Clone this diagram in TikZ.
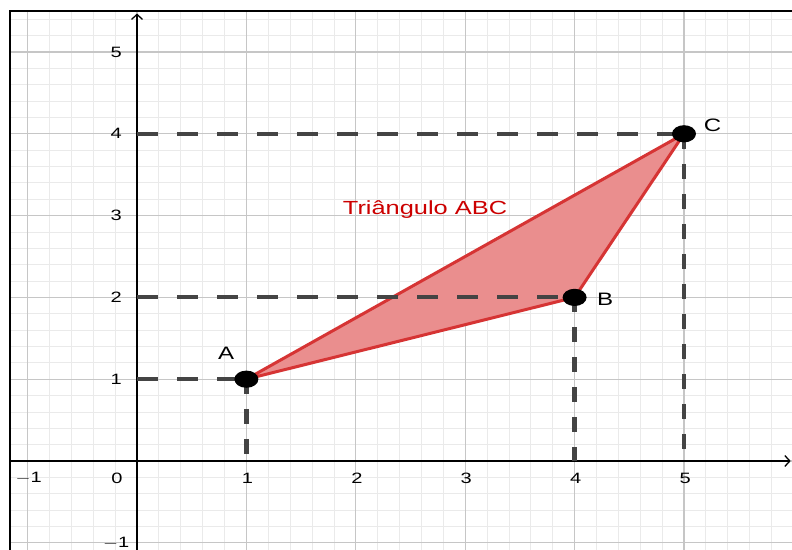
\documentclass[tikz,border=0pt]{standalone}
\usepackage{fontspec}
\setmainfont{Liberation Sans}
\usetikzlibrary{arrows.meta}
\definecolor{minorgrid}{RGB}{234,234,234}
\definecolor{majorgrid}{RGB}{198,198,198}
\definecolor{dashcol}{RGB}{68,68,68}
\definecolor{triedge}{RGB}{214,52,52}
\definecolor{trifill}{RGB}{234,142,142}
\definecolor{trilabel}{RGB}{204,0,0}
\newcommand{\hstretch}[1]{\scalebox{1.337}[1]{#1}}
\tikzset{
  hdash/.style={dashcol, line width=4pt, dash pattern=on 21pt off 19pt},
  vdash/.style={dashcol, line width=4.5pt, dash pattern=on 15pt off 15pt},
  ticklab/.style={font=\fontsize{15}{15}\selectfont, inner sep=0pt},
  ptlab/.style={font=\fontsize{18}{18}\selectfont, inner sep=0pt},
  axisline/.style={line width=1.3pt, -{Straight Barb[length=5pt,width=11pt,line width=1.3pt]}},
}
\begin{document}
\begin{tikzpicture}[x=109.4pt,y=81.8pt]
\useasboundingbox (-1.2523,-1.0880) rectangle (5.9872,5.6357);
\fill[white] (-1.2523,-1.0880) rectangle (5.9872,5.6357);
% grid
\begin{scope}
\clip (-1.161,-1.088) rectangle (5.9872,5.501);
\draw[minorgrid, line width=0.8pt, xstep=0.2, ystep=0.2] (-1.4,-1.2) grid (6.2,5.8);
\draw[majorgrid, line width=1.1pt, xstep=1, ystep=1] (-1.4,-1.2) grid (6.2,5.8);
\end{scope}
% frame
\draw[line width=2pt] (-1.161,-1.1) -- (-1.161,5.501) -- (6.0,5.501);
% axes
\coordinate (O) at (0,0);
\coordinate (ybot) at (0,-1.088);
\coordinate (ytop) at (0,5.47);
\coordinate (xleft) at (-1.161,0);
\coordinate (xright) at (5.975,0);
\draw[axisline] (ybot) -- (ytop);
\draw[axisline] (xleft) -- (xright);
% tick labels
\foreach \v/\t in {-1/$-$1,1/1,2/2,3/3,4/4,5/5}
  \node[ticklab] (xl\v) at (\v+0.01,-0.208) {\hstretch{\t}};
\node[ticklab] (x0) at (-0.183,-0.208) {\hstretch{0}};
\foreach \v/\t in {-1/$-$1,1/1,2/2,3/3,4/4,5/5}
  \node[ticklab] (yl\v) at (-0.19,\v) {\hstretch{\t}};
% points
\coordinate (A) at (1,1);
\coordinate (B) at (4,2);
\coordinate (C) at (5,4);
% triangle
\filldraw[fill=trifill, draw=triedge, line width=3pt, line join=round] (A) -- (B) -- (C) -- cycle;
% dashed projections
\draw[hdash] (O |- A) -- (A);
\draw[hdash] (O |- B) -- (B);
\draw[hdash] (O |- C) -- (C);
\draw[vdash] (A) -- (A |- O);
\draw[vdash] (B) -- (B |- O);
\draw[vdash] (C) -- (C |- O);
% dots
\foreach \p in {A,B,C}
  \fill[black] (\p) ellipse [x radius=12pt, y radius=8.6pt];
% labels
\node[ptlab] (lA) at (0.815,1.32) {\hstretch{A}};
\node[ptlab] (lB) at (4.28,1.98) {\hstretch{B}};
\node[ptlab] (lC) at (5.26,4.10) {\hstretch{C}};
\node[font=\fontsize{19}{19}\selectfont, text=trilabel, inner sep=0pt] (tri) at (2.633,3.07) {\hstretch{Triângulo ABC}};
\end{tikzpicture}
\end{document}
